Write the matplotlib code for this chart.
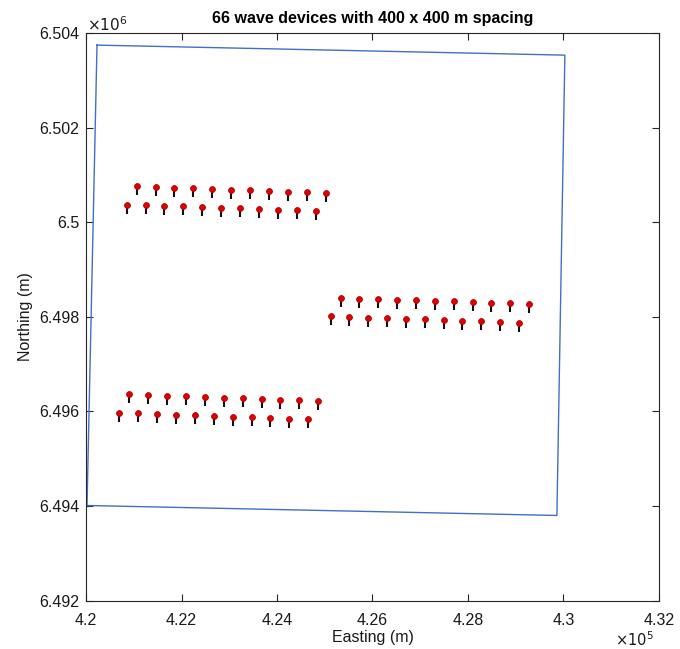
import matplotlib.pyplot as plt

plt.rcParams['font.family'] = ['Liberation Sans', 'DejaVu Sans']

# lease boundary corners (easting, northing)
bound_e = [420230, 430030, 429863, 420021, 420230]
bound_n = [6503746, 6503534, 6493801, 6494012, 6503746]

# device positions, two rows per array block
dev_e = [
    # block 1, upper row
    421062, 421459, 421849, 422247, 422645, 423036, 423434, 423826, 424224, 424621, 425019,
    # block 1, lower row
    420852, 421250, 421640, 422037, 422435, 422827, 423225, 423616, 424014, 424412, 424810,
    # block 2, upper row
    425333, 425723, 426121, 426519, 426917, 427308, 427706, 428098, 428487, 428885, 429276,
    # block 2, lower row
    425124, 425514, 425911, 426303, 426701, 427099, 427490, 427880, 428278, 428669, 429067,
    # block 3, upper row
    420907, 421305, 421702, 422094, 422492, 422890, 423281, 423679, 424069, 424467, 424858,
    # block 3, lower row
    420697, 421095, 421493, 421885, 422282, 422680, 423072, 423470, 423859, 424257, 424649,
]
dev_n = [
    6500763, 6500748, 6500735, 6500720, 6500705, 6500684, 6500678, 6500663, 6500650, 6500636, 6500621,
    6500375, 6500360, 6500354, 6500339, 6500324, 6500312, 6500297, 6500282, 6500269, 6500255, 6500234,
    6498399, 6498386, 6498378, 6498365, 6498357, 6498344, 6498329, 6498314, 6498302, 6498287, 6498272,
    6498012, 6497997, 6497984, 6497976, 6497963, 6497948, 6497933, 6497921, 6497906, 6497891, 6497878,
    6496361, 6496346, 6496334, 6496319, 6496304, 6496291, 6496277, 6496262, 6496249, 6496234, 6496219,
    6495974, 6495959, 6495944, 6495932, 6495917, 6495902, 6495890, 6495875, 6495860, 6495847, 6495832,
]

x_ticks = [420000, 422000, 424000, 426000, 428000, 430000, 432000]
x_labels = ['4.2', '4.22', '4.24', '4.26', '4.28', '4.3', '4.32']
y_ticks = [6492000, 6494000, 6496000, 6498000, 6500000, 6502000, 6504000]
y_labels = ['6.492', '6.494', '6.496', '6.498', '6.5', '6.502', '6.504']

axis_col = '#262626'
stem_len = 190

fig = plt.figure(figsize=(6.8, 6.49), dpi=100)
ax = fig.add_axes([0.1265, 0.0745, 0.8425, 0.8745])

ax.plot(bound_e, bound_n, color='#4070c8', lw=1.0)

# mooring stems below each device
for e, n in zip(dev_e, dev_n):
    ax.plot([e, e], [n, n - stem_len], color='#111111', lw=1.5, solid_capstyle='butt')
ax.plot(dev_e, dev_n, 'o', color='#e00000', mec='#b00000', ms=4.2, mew=0.6, ls='none')

ax.set_xlim(420000, 432000)
ax.set_ylim(6492000, 6504000)
ax.set_xticks(x_ticks)
ax.set_xticklabels(x_labels)
ax.set_yticks(y_ticks)
ax.set_yticklabels(y_labels)
ax.tick_params(direction='in', length=5, width=0.8, colors=axis_col,
               labelsize=11.5, top=True, right=True, labelcolor='#1a1a1a')
ax.tick_params(axis='x', pad=9)
ax.tick_params(axis='y', pad=5)
for s in ax.spines.values():
    s.set_color(axis_col)
    s.set_linewidth(0.8)

ax.set_xlabel('Easting (m)', fontsize=11.5, color='#1a1a1a', labelpad=1)
ax.set_ylabel('Northing (m)', fontsize=11.5, color='#1a1a1a', labelpad=4)
ax.set_title('66 wave devices with 400 x 400 m spacing', fontsize=11.5,
             fontweight='bold', pad=7)

# exponent labels in the MATLAB style
ax.text(0.001, 0.998, r'$\times10^{6}$', transform=ax.transAxes, fontsize=11,
        ha='left', va='bottom', color='#1a1a1a')
ax.text(0.99, -0.052, r'$\times10^{5}$', transform=ax.transAxes, fontsize=10.5,
        ha='right', va='top', color='#1a1a1a')

fig.savefig('out.png', dpi=100)
